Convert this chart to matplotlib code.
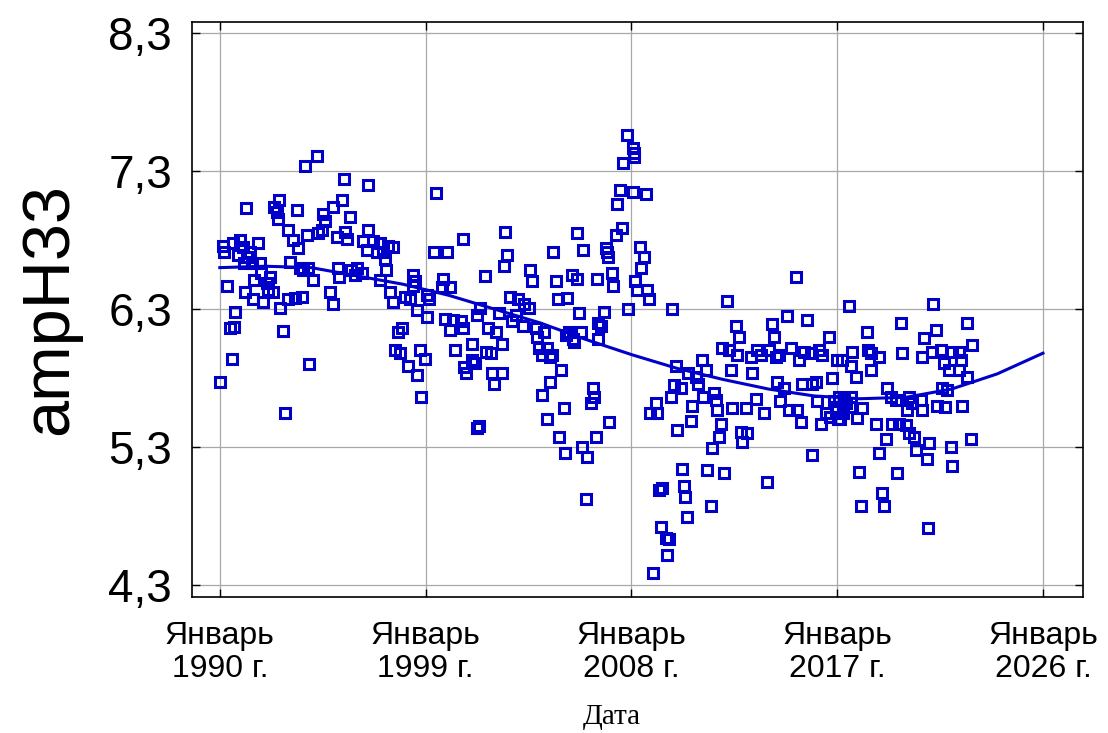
import matplotlib
matplotlib.use("Agg")
import matplotlib.pyplot as plt

years = [
    1990.00, 1990.13, 1990.20, 1990.31, 1990.44, 1990.52, 1990.57, 1990.60, 1990.66, 1990.79,
    1990.87, 1991.00, 1991.05, 1991.08, 1991.14, 1991.18, 1991.31, 1991.40, 1991.44, 1991.50,
    1991.66, 1991.75, 1991.80, 1991.88, 1992.05, 1992.10, 1992.18, 1992.32, 1992.36, 1992.49,
    1992.53, 1992.58, 1992.62, 1992.75, 1992.84, 1992.97, 1993.00, 1993.06, 1993.19, 1993.28,
    1993.36, 1993.41, 1993.49, 1993.58, 1993.63, 1993.71, 1993.80, 1993.84, 1993.89, 1994.06,
    1994.24, 1994.28, 1994.46, 1994.50, 1994.59, 1994.81, 1994.94, 1994.97, 1995.11, 1995.15,
    1995.20, 1995.33, 1995.42, 1995.46, 1995.55, 1995.68, 1995.72, 1995.90, 1995.99, 1996.20,
    1996.25, 1996.42, 1996.47, 1996.50, 1996.68, 1996.86, 1996.99, 1997.00, 1997.12, 1997.21,
    1997.25, 1997.34, 1997.43, 1997.56, 1997.58, 1997.65, 1997.78, 1997.86, 1997.99, 1998.08,
    1998.21, 1998.30, 1998.43, 1998.45, 1998.52, 1998.61, 1998.63, 1998.74, 1998.82, 1998.96,
    1999.04, 1999.06, 1999.17, 1999.35, 1999.44, 1999.70, 1999.74, 1999.83, 1999.92, 2000.05,
    2000.08, 2000.18, 2000.27, 2000.57, 2000.62, 2000.65, 2000.70, 2000.75, 2001.01, 2001.05,
    2001.14, 2001.23, 2001.27, 2001.32, 2001.36, 2001.58, 2001.66, 2001.71, 2001.88, 2001.90,
    2002.01, 2002.10, 2002.23, 2002.32, 2002.34, 2002.45, 2002.49, 2002.58, 2002.67, 2002.80,
    2002.97, 2003.02, 2003.24, 2003.32, 2003.54, 2003.56, 2003.67, 2003.85, 2003.89, 2003.98,
    2004.07, 2004.11, 2004.20, 2004.29, 2004.31, 2004.42, 2004.45, 2004.55, 2004.59, 2004.72,
    2004.77, 2004.85, 2004.94, 2005.07, 2005.09, 2005.16, 2005.20, 2005.29, 2005.42, 2005.44,
    2005.51, 2005.60, 2005.62, 2005.73, 2005.81, 2005.86, 2005.90, 2006.03, 2006.08, 2006.25,
    2006.30, 2006.38, 2006.47, 2006.51, 2006.53, 2006.55, 2006.69, 2006.82, 2006.91, 2006.95,
    2006.97, 2007.04, 2007.17, 2007.20, 2007.31, 2007.39, 2007.52, 2007.57, 2007.65, 2007.82,
    2007.85, 2008.05, 2008.09, 2008.10, 2008.13, 2008.17, 2008.26, 2008.39, 2008.44, 2008.57,
    2008.66, 2008.70, 2008.79, 2008.81, 2008.96, 2009.09, 2009.10, 2009.22, 2009.31, 2009.35,
    2009.53, 2009.57, 2009.66, 2009.75, 2009.79, 2009.88, 2009.97, 2009.99, 2010.18, 2010.23,
    2010.31, 2010.36, 2010.45, 2010.47, 2010.62, 2010.66, 2010.84, 2010.90, 2011.10, 2011.12,
    2011.28, 2011.32, 2011.49, 2011.54, 2011.63, 2011.71, 2011.76, 2011.84, 2011.93, 2011.97,
    2012.06, 2012.19, 2012.28, 2012.37, 2012.41, 2012.59, 2012.63, 2012.72, 2012.81, 2012.85,
    2013.02, 2013.07, 2013.24, 2013.29, 2013.46, 2013.50, 2013.68, 2013.81, 2013.94, 2014.03,
    2014.16, 2014.25, 2014.33, 2014.35, 2014.46, 2014.48, 2014.68, 2014.81, 2014.90, 2014.99,
    2015.21, 2015.23, 2015.34, 2015.43, 2015.47, 2015.56, 2015.69, 2015.86, 2015.88, 2015.91,
    2016.08, 2016.12, 2016.21, 2016.30, 2016.34, 2016.52, 2016.65, 2016.67, 2016.78, 2016.87,
    2016.96, 2016.98, 2017.00, 2017.02, 2017.09, 2017.11, 2017.22, 2017.24, 2017.30, 2017.39,
    2017.52, 2017.54, 2017.60, 2017.61, 2017.65, 2017.83, 2017.87, 2017.96, 2018.05, 2018.09,
    2018.31, 2018.33, 2018.48, 2018.50, 2018.70, 2018.83, 2018.85, 2018.96, 2019.05, 2019.14,
    2019.18, 2019.36, 2019.38, 2019.58, 2019.62, 2019.71, 2019.79, 2019.84, 2020.01, 2020.06,
    2020.14, 2020.16, 2020.28, 2020.36, 2020.45, 2020.67, 2020.70, 2020.71, 2020.80, 2020.93,
    2020.97, 2021.02, 2021.15, 2021.19, 2021.32, 2021.37, 2021.54, 2021.59, 2021.67, 2021.70,
    2021.80, 2021.89, 2021.98, 2022.02, 2022.04, 2022.33, 2022.35, 2022.42, 2022.44, 2022.68,
    2022.70, 2022.85, 2022.90,
]
values = [
    5.77, 6.76, 6.71, 6.47, 6.16, 5.94, 6.78, 6.17, 6.28, 6.69,
    6.80, 6.75, 6.63, 6.42, 7.03, 6.68, 6.71, 6.63, 6.37, 6.51,
    6.78, 6.63, 6.56, 6.35, 6.49, 6.44, 6.53, 6.42, 7.04, 7.00,
    6.95, 7.09, 6.31, 6.14, 5.55, 6.87, 6.37, 6.64, 6.80, 6.38,
    7.02, 6.74, 6.60, 6.39, 6.58, 7.34, 6.84, 6.60, 5.90, 6.51,
    7.41, 6.85, 6.87, 6.99, 6.94, 6.42, 7.04, 6.34, 6.82, 6.60,
    6.53, 7.09, 7.24, 6.86, 6.81, 6.97, 6.58, 6.55, 6.60, 6.56,
    6.79, 6.73, 7.20, 6.87, 6.79, 6.71, 6.78, 6.51, 6.71, 6.66,
    6.58, 6.76, 6.42, 6.75, 6.35, 6.00, 6.13, 5.98, 6.16, 6.39,
    5.89, 6.37, 6.55, 6.47, 6.50, 6.29, 5.82, 6.00, 5.66, 5.94,
    6.40, 6.24, 6.37, 6.71, 7.14, 6.46, 6.52, 6.23, 6.71, 6.46,
    6.15, 6.22, 6.00, 6.21, 6.81, 6.16, 5.88, 5.84, 5.93, 6.05,
    5.91, 6.26, 5.44, 5.45, 6.31, 6.54, 5.99, 6.16, 5.98, 5.84,
    5.76, 6.13, 6.27, 6.05, 5.84, 6.61, 6.86, 6.69, 6.39, 6.21,
    6.26, 6.37, 6.18, 6.34, 6.31, 6.58, 6.50, 6.16, 6.10, 6.02,
    5.97, 5.68, 6.13, 6.02, 5.50, 5.95, 5.77, 5.97, 6.71, 6.50,
    6.37, 5.37, 5.86, 5.58, 5.26, 6.11, 6.38, 6.13, 6.55, 6.08,
    6.06, 6.85, 6.52, 6.27, 6.13, 5.30, 6.73, 4.92, 5.23, 5.62,
    5.73, 5.66, 5.37, 6.52, 6.20, 6.08, 6.18, 6.28, 6.74, 6.71,
    6.68, 5.48, 6.56, 6.47, 6.84, 7.06, 7.16, 6.89, 7.36, 7.56,
    6.30, 7.15, 7.47, 7.43, 7.40, 6.50, 6.44, 6.75, 6.60, 6.68,
    7.13, 6.44, 6.37, 5.55, 4.39, 5.62, 5.55, 4.99, 4.72, 5.00,
    4.64, 4.52, 4.63, 5.66, 6.30, 5.75, 5.89, 5.42, 5.73, 5.14,
    5.02, 4.94, 4.79, 5.84, 5.49, 5.60, 5.81, 5.76, 5.93, 5.66,
    5.86, 5.13, 4.87, 5.29, 5.69, 5.64, 5.57, 5.37, 5.47, 6.02,
    5.11, 6.36, 6.00, 5.86, 5.58, 6.18, 5.97, 6.10, 5.41, 5.34,
    5.58, 5.40, 5.95, 5.84, 5.65, 6.00, 5.97, 5.55, 5.05, 6.00,
    6.19, 6.10, 5.95, 5.77, 5.97, 5.63, 5.73, 6.25, 5.57, 6.02,
    6.53, 5.57, 5.93, 5.48, 5.76, 5.99, 6.22, 5.98, 5.76, 5.24,
    5.77, 5.63, 6.00, 5.47, 5.97, 5.55, 6.10, 5.52, 5.80, 5.63,
    5.59, 5.57, 5.93, 5.50, 5.66, 5.50, 5.93, 5.55, 5.64, 5.62,
    6.32, 5.59, 5.66, 5.89, 5.99, 5.81, 5.51, 5.12, 4.87, 5.58,
    6.13, 6.00, 5.98, 5.86, 5.47, 5.95, 5.26, 4.97, 4.87, 5.36,
    5.73, 5.66, 5.47, 5.64, 5.11, 5.47, 6.20, 5.98, 5.46, 5.57,
    5.66, 5.40, 5.62, 5.37, 5.28, 5.64, 5.57, 5.95, 6.09, 5.21,
    4.71, 5.33, 5.99, 6.34, 6.15, 5.60, 6.00, 5.73, 5.91, 5.59,
    5.71, 5.86, 5.30, 5.99, 5.16, 5.99, 5.86, 5.93, 5.60, 6.20,
    5.81, 5.36, 6.04,
]

# smooth trend curve
trend_years = [1990, 1992, 1994, 1996, 1998, 2000, 2002, 2004, 2006, 2008,
               2010, 2012, 2014, 2016, 2018, 2020, 2022, 2024, 2026]
trend_values = [6.60, 6.61, 6.60, 6.54, 6.48, 6.40, 6.30, 6.20, 6.08, 5.97,
                5.87, 5.79, 5.72, 5.67, 5.65, 5.66, 5.72, 5.83, 5.98]

xtick_years = [1990, 1999, 2008, 2017, 2026]
xtick_labels = [f"Январь\n{y} г." for y in xtick_years]
ytick_values = [4.3, 5.3, 6.3, 7.3, 8.3]
ytick_labels = ["4,3", "5,3", "6,3", "7,3", "8,3"]

blue = "#0000C8"

fig = plt.figure(figsize=(11.08, 7.33), dpi=100)
ax = fig.add_axes([0.173, 0.1855, 0.8044, 0.7845])

ax.plot(trend_years, trend_values, color=blue, lw=2.2, zorder=2)
ax.plot(years, values, linestyle="none", marker="s", ms=6.6, mew=2.2,
        mfc="none", mec=blue, zorder=3)

ax.set_xlim(1988.77, 2027.75)
ax.set_ylim(4.213, 8.38)
ax.set_xticks(xtick_years)
ax.set_xticklabels(xtick_labels, fontsize=23, family="Liberation Sans",
                   linespacing=1.15)
ax.set_yticks(ytick_values)
ax.set_yticklabels(ytick_labels, fontsize=33, family="Liberation Sans")
ax.tick_params(direction="in", length=6, width=1, top=True, right=True,
               color="black")
ax.tick_params(axis="y", pad=14)
ax.tick_params(axis="x", pad=17)

ax.grid(True, color="#a8a8a8", lw=0.9)
ax.set_axisbelow(True)
for s in ax.spines.values():
    s.set_linewidth(1.2)
    s.set_color("black")

fig.text(0.045, 0.578, "ampH33", rotation=90, ha="center", va="center",
         fontsize=48, family="Liberation Sans")
fig.text(0.552, 0.022, "Дата", ha="center", va="center",
         fontsize=21, family="Liberation Serif")

fig.savefig("out.png", dpi=100)
